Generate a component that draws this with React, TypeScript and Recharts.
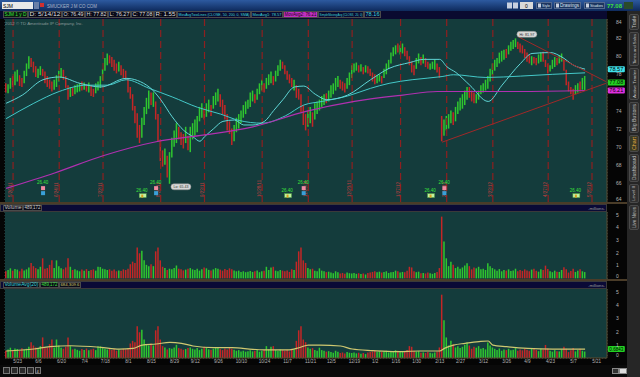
import React from 'react'
import {
  ComposedChart,
  Bar,
  Line,
  XAxis,
  YAxis,
  CartesianGrid,
  ReferenceLine,
  ReferenceDot,
  Cell,
} from 'recharts'

// daily bars, 5/16/11 .. 5/14/12
const lows = [
  76.0, 75.9, 76.4, 76.6, 76.8, 77.2, 76.7, 76.6, 77.0, 77.8,
  78.6, 78.8, 78.2, 77.7, 77.6, 77.9, 77.8, 77.0, 76.6, 76.4,
  76.1, 76.3, 76.6, 77.2, 77.6, 77.4, 76.5, 75.2, 75.5, 75.6,
  75.8, 76.0, 76.1, 76.2, 76.3, 76.1, 76.0, 75.6, 75.5, 75.9,
  76.2, 76.5, 77.3, 78.4, 79.0, 79.2, 78.8, 78.4, 78.1, 78.3,
  77.9, 77.6, 77.4, 76.0, 75.3, 74.0, 72.6, 71.0, 70.4, 71.0,
  72.4, 73.6, 74.2, 74.6, 74.4, 73.0, 70.6, 68.4, 67.8, 68.0,
  66.6, 65.9, 68.8, 70.0, 70.4, 70.8, 70.2, 69.8, 70.4, 69.6,
  69.4, 70.8, 71.2, 71.6, 72.8, 73.2, 73.0, 73.3, 73.8, 73.4,
  74.2, 74.6, 75.0, 74.4, 73.6, 73.0, 71.8, 71.4, 70.2, 70.6,
  71.6, 72.0, 72.6, 73.2, 73.6, 74.2, 74.4, 75.0, 74.8, 75.2,
  75.8, 76.2, 76.0, 76.4, 76.8, 77.0, 76.8, 77.2, 77.8, 78.4,
  78.6, 78.0, 77.4, 77.0, 76.6, 76.2, 75.4, 75.2, 73.8, 72.4,
  71.8, 72.2, 72.6, 72.2, 73.0, 73.6, 74.0, 74.4, 74.6, 74.8,
  75.0, 75.4, 75.8, 76.2, 76.6, 76.4, 76.2, 76.0, 76.4, 76.8,
  77.6, 78.2, 78.4, 78.2, 78.3, 78.0, 78.2, 78.1, 77.8, 77.2,
  76.9, 77.0, 77.2, 77.0, 77.6, 78.0, 78.6, 79.2, 80.0, 80.2,
  80.4, 80.2, 80.3, 80.0, 79.6, 79.0, 78.2, 77.9, 78.6, 79.2,
  79.0, 79.2, 78.8, 78.6, 78.5, 78.6, 78.5, 78.2, 77.6, 70.6,
  71.2, 71.8, 72.0, 72.6, 72.4, 72.8, 73.6, 74.0, 74.2, 74.6,
  75.2, 75.4, 75.0, 74.8, 74.8, 75.2, 75.8, 76.0, 76.2, 76.4,
  77.2, 77.9, 78.4, 78.8, 79.2, 79.4, 79.6, 79.8, 80.2, 80.6,
  80.8, 81.0, 80.8, 80.4, 80.3, 79.8, 79.4, 79.2, 79.0, 79.2,
  79.0, 79.2, 79.4, 79.4, 78.8, 78.1, 78.3, 78.6, 78.8, 79.0,
  79.2, 79.4, 78.4, 76.8, 76.1, 75.8, 75.2, 75.8, 76.0, 76.1,
  76.3, 76.27,
]

const highs = [
  77.0, 76.9, 77.6, 77.8, 78.3, 78.5, 77.9, 77.6, 78.4, 79.2,
  80.0, 79.8, 79.4, 78.9, 78.6, 78.9, 78.6, 78.3, 77.8, 77.4,
  77.2, 77.4, 77.9, 78.4, 78.7, 78.5, 77.8, 76.8, 76.6, 76.5,
  76.8, 76.9, 77.0, 77.2, 77.1, 76.9, 77.1, 76.8, 76.4, 77.0,
  77.2, 77.8, 78.6, 79.8, 80.3, 80.1, 79.9, 79.6, 79.2, 79.4,
  79.0, 78.6, 78.4, 77.6, 76.6, 75.8, 74.5, 73.7, 72.4, 73.2,
  74.4, 75.4, 76.2, 76.0, 76.0, 75.0, 73.6, 70.8, 69.6, 69.8,
  69.0, 69.4, 71.0, 71.8, 72.6, 72.2, 71.6, 71.4, 72.2, 71.2,
  72.2, 72.6, 73.0, 73.4, 74.4, 74.8, 74.2, 74.8, 75.2, 74.6,
  75.6, 76.0, 76.4, 75.8, 75.2, 74.6, 73.6, 72.8, 72.0, 72.4,
  73.2, 73.6, 74.0, 74.6, 75.0, 75.2, 76.0, 76.2, 75.8, 76.4,
  77.0, 77.4, 77.0, 77.6, 78.0, 78.3, 77.8, 78.4, 79.0, 79.6,
  79.4, 79.0, 78.4, 78.0, 77.6, 77.4, 76.8, 76.4, 75.8, 74.6,
  73.6, 74.0, 74.4, 73.8, 74.8, 75.0, 75.2, 75.6, 75.8, 75.9,
  76.2, 76.8, 77.0, 77.6, 77.8, 77.4, 77.2, 77.0, 77.6, 78.2,
  79.0, 79.2, 79.3, 79.0, 79.1, 78.8, 79.0, 78.9, 78.6, 78.2,
  78.0, 77.9, 78.0, 77.8, 78.6, 79.2, 79.6, 80.4, 81.0, 81.2,
  81.4, 81.2, 81.4, 81.0, 80.6, 80.0, 79.4, 79.0, 79.8, 80.3,
  79.9, 80.2, 79.8, 79.4, 79.2, 79.4, 79.6, 79.2, 78.8, 73.4,
  73.0, 73.4, 73.6, 74.0, 73.8, 74.4, 75.0, 75.4, 75.8, 76.2,
  76.6, 76.6, 76.2, 76.0, 75.8, 76.2, 76.8, 77.0, 77.4, 77.8,
  78.6, 79.2, 79.6, 79.8, 80.4, 80.6, 80.7, 80.8, 81.2, 81.6,
  81.8, 81.97, 81.6, 81.4, 81.2, 80.8, 80.4, 80.2, 80.0, 79.9,
  79.8, 80.2, 80.4, 80.5, 79.6, 79.2, 79.0, 79.6, 79.9, 79.8,
  80.1, 80.3, 79.6, 78.5, 77.2, 76.6, 76.4, 76.8, 77.0, 77.2,
  77.6, 77.82,
]

// u = close above open, d = close below open
const dirs = (
  'duuduudduu uddduudddd duuuudddud uuudududdu uuuuuddddu ' +
  'dddddddddu uuududdddu duuuudddud uuuuuuduud uuuddddddu ' +
  'uuuuuuuudu uuduuuduuu dddddudddd duuduuuuud uuuuuddduu ' +
  'uuudududdd duuduuuuuu duuddddduu dudduuuddd uuuuduuuuu ' +
  'uddduuuuuu uuuuuuuduu uuddddddud duuddduuud uuddddduud uu'
).replace(/ /g, '')

// volume, millions
const volumes = [
  0.55, 0.65, 0.78, 0.6, 0.72, 0.68, 0.55, 0.74, 0.62, 0.7,
  0.85, 1.2, 0.95, 0.8, 0.7, 0.9, 1.56, 0.75, 0.8, 1.05,
  1.4, 0.8, 1.4, 0.95, 0.78, 0.7, 0.85, 1.56, 0.9, 0.65,
  0.7, 0.62, 0.55, 0.68, 0.6, 0.72, 0.58, 0.65, 0.7, 0.6,
  0.9, 0.88, 0.75, 0.7, 0.65, 0.7, 0.6, 0.68, 0.55, 0.62,
  0.58, 0.7, 0.65, 0.75, 1.1, 1.3, 1.2, 2.4, 1.95, 2.15,
  1.4, 1.05, 0.95, 1.1, 0.95, 2.1, 2.4, 1.4, 0.9, 0.8,
  0.65, 0.75, 0.7, 0.8, 1.0, 0.75, 0.7, 0.62, 0.68, 0.75,
  0.8, 0.7, 0.65, 0.75, 0.6, 0.7, 0.85, 0.78, 0.66, 0.62,
  0.7, 0.8, 0.75, 0.68, 0.6, 0.72, 0.65, 0.78, 0.7, 0.62,
  0.55, 0.6, 0.5, 0.55, 0.48, 0.52, 0.58, 0.5, 0.55, 0.62,
  0.48, 0.55, 0.6, 0.9, 0.65, 0.85, 0.9, 0.6, 0.55, 0.65,
  0.6, 0.55, 0.62, 0.5, 0.7, 0.65, 1.3, 2.1, 2.4, 1.4,
  1.2, 0.8, 0.7, 0.75, 0.6, 0.55, 0.78, 0.6, 0.55, 0.48,
  0.52, 0.45, 0.4, 0.55, 0.48, 0.38, 0.42, 0.35, 0.45, 0.4,
  0.38, 0.42, 0.35, 0.4, 0.33, 0.38, 0.3, 0.42, 0.45, 0.5,
  0.55, 0.48, 0.52, 0.45, 0.5, 0.55, 0.42, 0.48, 0.5, 0.6,
  0.55, 0.45, 0.5, 0.48, 0.6, 0.9, 0.85, 0.55, 0.48, 0.52,
  0.4, 0.42, 0.38, 0.45, 0.4, 0.35, 0.42, 0.5, 0.8, 4.8,
  2.86, 1.56, 0.95, 1.3, 1.05, 0.8, 0.9, 0.75, 0.85, 1.0,
  1.17, 0.95, 0.7, 0.85, 0.78, 0.9, 0.7, 0.75, 0.65, 1.17,
  0.95, 0.8, 0.7, 0.6, 0.72, 0.55, 0.65, 0.6, 0.7, 0.58,
  0.62, 0.75, 0.55, 0.65, 0.58, 0.7, 0.62, 0.55, 0.68, 0.75,
  0.6, 0.52, 0.7, 0.65, 0.99, 0.72, 0.55, 0.48, 0.6, 0.52,
  0.5, 0.65, 0.86, 0.7, 0.45, 0.58, 0.75, 0.5, 0.6, 0.7,
  0.55, 0.49,
]

// moving averages, read as [bar, value]
const ma20 = [
  [0, 74.8], [7, 75.7], [16, 77.4], [23, 77.7], [32, 77.0], [41, 76.6], [52, 77.55],
  [62, 76.6], [67, 75.2], [72, 73.3], [77, 71.8], [81, 71.1], [84, 70.6], [86, 71.1],
  [90, 72.0], [94, 72.8], [99, 72.95], [103, 72.4], [107, 72.4], [112, 72.8], [116, 74.0],
  [120, 75.2], [125, 76.6], [129, 76.7], [134, 75.8], [139, 75.2], [148, 75.7], [158, 77.4],
  [166, 78.65], [175, 79.3], [181, 79.65], [188, 79.65], [191, 78.85], [195, 78.2],
  [201, 76.8], [209, 75.0], [215, 76.8], [223, 79.2], [228, 80.3], [236, 80.4],
  [241, 79.9], [246, 79.0], [251, 78.57],
]
const ma50 = [
  [0, 73.1], [12, 74.8], [23, 76.1], [35, 76.8], [44, 76.8], [52, 77.4], [62, 76.45],
  [72, 75.5], [83, 74.35], [93, 73.6], [101, 72.9], [111, 72.6], [121, 73.4], [129, 74.6],
  [137, 75.0], [148, 75.6], [158, 76.45], [166, 77.0], [176, 77.4], [189, 77.75],
  [194, 77.95], [208, 77.65], [223, 77.8], [237, 78.0], [251, 78.16],
]
const ma200 = [
  [0, 65.4], [21, 67.1], [42, 69.0], [65, 70.55], [86, 71.3], [107, 72.2], [130, 73.9],
  [151, 75.0], [172, 75.7], [187, 76.1], [222, 76.1], [251, 76.21],
]
const volAvg = [
  [0, 0.53], [12, 0.68], [19, 0.86], [28, 0.93], [41, 0.81], [49, 0.68], [55, 0.73],
  [59, 0.98], [65, 1.06], [71, 1.19], [76, 1.11], [81, 0.91], [90, 0.78], [98, 0.78],
  [107, 0.66], [113, 0.61], [122, 0.61], [127, 0.78], [131, 0.98], [136, 0.98],
  [145, 0.91], [150, 0.68], [159, 0.56], [169, 0.48], [179, 0.53], [188, 0.53],
  [190, 0.73], [194, 0.98], [199, 1.11], [205, 1.24], [209, 1.29], [211, 0.98],
  [217, 0.86], [226, 0.73], [237, 0.68], [251, 0.68],
]

const tickIdx = [5, 14, 24, 34, 43, 53, 63, 73, 82, 92, 102, 112, 122, 132, 141, 151, 160, 169, 178, 188, 197, 207, 217, 226, 236, 246, 256]
const tickLabels = ['5/23', '6/6', '6/20', '7/4', '7/18', '8/1', '8/15', '8/29', '9/12', '9/26', '10/10', '10/24', '11/7', '11/21', '12/5', '12/19', '1/2', '1/16', '1/30', '2/13', '2/27', '3/12', '3/26', '4/9', '4/23', '5/7', '5/21']
const priceTicks = [64, 66, 68, 70, 72, 74, 76, 78, 80, 82, 84]
const volTicks = [0, 1, 2, 3, 4, 5]

const eventLines = [3, 23, 42, 67, 86, 111, 131, 150, 171, 191, 211, 235, 254]
const eventLineLabels = ['5/26/11', '6/24/11', '7/22/11', '8/26/11', '9/23/11', '10/28/11', '11/25/11', '12/23/11', '1/27/12', '2/24/12', '3/23/12', '4/27/12', '5/25/12']
const dividendIdx = [16, 65, 129, 190]
const earningsIdx = [59, 122, 184, 247]

const trendUpper = [[222, 82.15], [260, 77.2]]
const trendLower = [[189, 70.5], [260, 77.0]]

// last values shown as tags on the price axis
const tagValues = [78.57, 77.08, 76.21]
const tagColors = ['#3ee0e8', '#22d022', '#e030e0']

const SLOTS = 261
const GREEN = '#2fc62f'
const RED = '#c42626'
const BG = '#143c3c'
const GRID = '#365c5c'
const AXIS_TXT = '#b4b4b4'
const FONT = '"Liberation Sans", Arial, sans-serif'

function lookup(points: number[][], i: number) {
  const p = points.find((q) => q[0] === i)
  return p ? p[1] : null
}

const rows = Array.from({ length: SLOTS }, (_, i) => ({
  i,
  range: i < lows.length ? [lows[i], highs[i]] : null,
  vol: i < volumes.length ? volumes[i] : null,
  ma20: lookup(ma20, i),
  ma50: lookup(ma50, i),
  ma200: lookup(ma200, i),
  vavg: lookup(volAvg, i),
}))

const barColor = (i: number) => (dirs[i] === 'd' ? RED : GREEN)

// size that lets a label fit its box without squeezing too much
const fitSize = (text: string, w: number, max = 5) => Math.min(max, w / (text.length * 0.5))

function TBox({ x, y, w, h, bg, color, text, border = '#4a4a4a', size = 5 }: any) {
  const fs = fitSize(text, w - 3, size)
  return (
    <g>
      <rect x={x + 0.5} y={y + 0.5} width={w - 1} height={h - 1} fill={bg} stroke={border} strokeWidth={1} />
      <text x={x + 1.5} y={y + h - 1.6} fontSize={fs} fill={color} fontFamily={FONT}
        textLength={w - 3} lengthAdjust="spacingAndGlyphs">{text}</text>
    </g>
  )
}

function T({ x, y, text, color = AXIS_TXT, size = 5, w, anchor, bold }: any) {
  const fs = w ? fitSize(text, w, size) : size
  return (
    <text x={x} y={y} fontSize={fs} fill={color} fontFamily={FONT} textAnchor={anchor}
      fontWeight={bold ? 'bold' : undefined}
      {...(w ? { textLength: w, lengthAdjust: 'spacingAndGlyphs' } : {})}>{text}</text>
  )
}

// right axis labels, kept inside the pane; labels hidden under a value tag are skipped
const rightTick = (paneH: number, covered: number[] = []) => ({ x, y, payload }: any) =>
  covered.some((c) => Math.abs(c - payload.value) < 0.4) ? <g /> : (
    <text x={x + 1} y={Math.max(5, Math.min(paneH - 1, y + 2))} fill={AXIS_TXT} fontSize={5} fontFamily={FONT}>
      {payload.value}
    </text>
  )

function PriceTag({ cx, cy, fill, value }: any) {
  return (
    <g>
      <rect x={cx + 2} y={cy - 3} width={17} height={6} rx={1} fill={fill} />
      <text x={cx + 3.5} y={cy + 1.8} fontSize={4.5} fill="#000" fontFamily={FONT}
        textLength={14} lengthAdjust="spacingAndGlyphs">{value}</text>
    </g>
  )
}

function Dividend({ cx, cy }: any) {
  return (
    <g>
      <text x={cx - 6} y={cy - 6} fontSize={4.5} fill="#3be03b" fontFamily={FONT}>26.40</text>
      <rect x={cx - 2} y={cy - 4} width={4} height={4} fill="#f08aa0" />
      <rect x={cx - 2} y={cy + 1} width={4} height={4} fill="#3aa0d8" />
    </g>
  )
}

function Earnings({ cx, cy }: any) {
  return (
    <g>
      <text x={cx - 6} y={cy - 4} fontSize={4.5} fill="#3be03b" fontFamily={FONT}>26.40</text>
      <rect x={cx - 3} y={cy - 2} width={7} height={4} fill="#bff0a0" stroke="#4c9c3c" strokeWidth={0.5} />
      <rect x={cx - 1} y={cy - 1} width={2} height={3} fill="#d8a020" />
    </g>
  )
}

function Bubble({ cx, cy, text, dy }: any) {
  return (
    <g>
      <rect x={cx + 1} y={cy + dy} width={20} height={6} rx={3} fill="#d8d8d8" stroke="#888" strokeWidth={0.5} />
      <text x={cx + 3.5} y={cy + dy + 4.6} fontSize={4} fill="#333" fontFamily={FONT}
        textLength={15} lengthAdjust="spacingAndGlyphs">{text}</text>
    </g>
  )
}

function EventLabel({ viewBox, value }: any) {
  const x = viewBox.x - 1
  const y = viewBox.y + viewBox.height - 5
  return (
    <text x={x} y={y} fontSize={4.5} fill="#c04040" fontFamily={FONT} transform={`rotate(-90 ${x} ${y})`}>
      {value}
    </text>
  )
}

const hiddenX = (
  <XAxis dataKey="i" ticks={tickIdx} interval={0} tick={false} tickLine={false} axisLine={false} height={0} />
)

function PriceChart() {
  return (
    <ComposedChart width={627} height={183} data={rows} margin={{ top: 0, right: 0, left: 5, bottom: 0 }} barCategoryGap={0}>
      <rect x={5} y={0} width={602} height={183} fill={BG} />
      <CartesianGrid stroke={GRID} strokeDasharray="1 2" />
      {hiddenX}
      <YAxis orientation="right" width={20} domain={[63.89, 84.11]} ticks={priceTicks} interval={0}
        tick={rightTick(183, tagValues)} tickLine={false} axisLine={{ stroke: '#5a4a30' }} allowDataOverflow />
      {eventLines.map((e, k) => (
        <ReferenceLine key={e} x={e} stroke="#8e2020" strokeWidth={1.2} strokeDasharray="7 4"
          label={<EventLabel value={eventLineLabels[k]} />} />
      ))}
      <Bar dataKey="range" barSize={1.5} isAnimationActive={false}>
        {rows.map((r) => <Cell key={r.i} fill={barColor(r.i)} />)}
      </Bar>
      <Line dataKey="ma50" stroke="#44c8c8" strokeWidth={1} dot={false} connectNulls type="monotone" isAnimationActive={false} />
      <Line dataKey="ma20" stroke="#5fd6d6" strokeWidth={1} dot={false} connectNulls type="monotone" isAnimationActive={false} />
      <Line dataKey="ma200" stroke="#b030b0" strokeWidth={1.2} dot={false} connectNulls type="monotone" isAnimationActive={false} />
      <ReferenceLine segment={[{ x: trendUpper[0][0], y: trendUpper[0][1] }, { x: trendUpper[1][0], y: trendUpper[1][1] }]} stroke="#a02828" strokeWidth={1} />
      <ReferenceLine segment={[{ x: trendLower[0][0], y: trendLower[0][1] }, { x: trendLower[1][0], y: trendLower[1][1] }]} stroke="#a02828" strokeWidth={1} />
      {dividendIdx.map((d) => (
        <ReferenceDot key={'d' + d} x={d} y={65.2} r={0} shape={(p: any) => <Dividend {...p} />} />
      ))}
      {earningsIdx.map((d) => (
        <ReferenceDot key={'e' + d} x={d} y={64.6} r={0} shape={(p: any) => <Earnings {...p} />} />
      ))}
      <ReferenceDot x={71} y={65.9} r={0} shape={(p: any) => <Bubble {...p} text="Lo: 65.43" dy={0} />} />
      <ReferenceDot x={221} y={81.97} r={0} shape={(p: any) => <Bubble {...p} text="Hi: 81.97" dy={-7} />} />
      {tagValues.map((v, k) => (
        <ReferenceDot key={'t' + v} x={260} y={v} r={0} ifOverflow="visible"
          shape={(p: any) => <PriceTag {...p} fill={tagColors[k]} value={v.toFixed(2)} />} />
      ))}
    </ComposedChart>
  )
}

function VolumeChart({ height, domain, avg }: any) {
  const paneH = height - (avg ? 7 : 0)
  return (
    <ComposedChart width={627} height={height} data={rows} margin={{ top: 0, right: 0, left: 5, bottom: 0 }} barCategoryGap={0}>
      <rect x={5} y={0} width={602} height={paneH} fill={BG} />
      <CartesianGrid stroke={GRID} strokeDasharray="1 2" />
      {avg ? (
        <XAxis dataKey="i" ticks={tickIdx} interval={0} height={7} tickSize={0} tickMargin={0} tickLine={false}
          axisLine={{ stroke: '#5a4a30' }}
          tick={({ x, payload }: any) => (
            <text x={x} y={paneH + 4.8} textAnchor="middle" fontSize={4.6} fill={AXIS_TXT} fontFamily={FONT}>
              {tickLabels[tickIdx.indexOf(payload.value)]}
            </text>
          )} />
      ) : hiddenX}
      <YAxis orientation="right" width={20} domain={domain} ticks={volTicks} interval={0} tick={rightTick(paneH)}
        tickLine={false} axisLine={{ stroke: '#5a4a30' }} allowDataOverflow />
      <Bar dataKey="vol" barSize={1.5} isAnimationActive={false}>
        {rows.map((r) => <Cell key={r.i} fill={barColor(r.i)} />)}
      </Bar>
      {avg && (
        <Line dataKey="vavg" stroke="#cfc870" strokeWidth={1.2} dot={false} connectNulls type="monotone" isAnimationActive={false} />
      )}
      {avg && (
        <ReferenceDot x={260} y={0.68} r={0} ifOverflow="visible" shape={(p: any) => <PriceTag {...p} fill="#22d022" value="0.6843" />} />
      )}
    </ComposedChart>
  )
}

const sideTabs = [
  { y: 14, h: 16, label: 'Trade' },
  { y: 32, h: 34, label: 'Times and Sales' },
  { y: 68, h: 32, label: 'Active Trader' },
  { y: 102, h: 31, label: 'Big Buttons' },
  { y: 135, h: 17, label: 'Chart', active: true },
  { y: 154, h: 28, label: 'Dashboard' },
  { y: 184, h: 19, label: 'Level II' },
  { y: 205, h: 25, label: 'Live News' },
]

function Frame() {
  return (
    <svg width={640} height={377} style={{ position: 'absolute', left: 0, top: 0, pointerEvents: 'none' }}>
      <defs>
        <linearGradient id="tb" x1="0" y1="0" x2="0" y2="1">
          <stop offset="0" stopColor="#2d5aa0" />
          <stop offset="1" stopColor="#0e2a5c" />
        </linearGradient>
      </defs>
      {/* top toolbar */}
      <rect x={0} y={0} width={640} height={11} fill="url(#tb)" />
      <rect x={2} y={2} width={31} height={7} fill="#e8e8e8" />
      <T x={3} y={7.6} text="SJM" color="#000" />
      <rect x={34} y={2} width={5} height={7} fill="#6a7fa8" />
      <rect x={40} y={3} width={4} height={4} fill="#d03030" />
      <T x={47} y={7.5} text="SMUCKER J M CO COM" color="#aab4c8" size={4.5} w={50} />
      <rect x={507} y={2.5} width={5} height={6} fill="#c8d0e0" />
      <rect x={513} y={2.5} width={5} height={6} fill="#c8d0e0" />
      <rect x={520} y={2} width={13} height={7} fill="#d8d8d8" />
      <T x={526.5} y={7.6} text="0" color="#000" anchor="middle" />
      {['Style', 'Drawings', 'Studies'].map((s, k) => {
        const x = [536, 554, 584][k]
        const w = [16, 27, 21][k]
        return (
          <g key={s}>
            <rect x={x + 0.5} y={2.5} width={w - 1} height={6} fill="#1c3560" stroke="#52688e" />
            <rect x={x + 2} y={3.5} width={3} height={4} fill="#c8d0e0" />
            <T x={x + 6} y={7.4} text={s} color="#dfe6f2" size={4.8} w={w - 8} />
          </g>
        )
      })}
      <T x={607} y={8} text="77.08" color="#3ce03c" size={5.5} bold w={15} />
      <rect x={624} y={2} width={9} height={7} fill="#2a4a2a" />

      {/* study header of price pane */}
      <rect x={0} y={11} width={607} height={8} fill="#0a0a30" />
      <TBox x={3} y={11} w={25} h={7} bg="#0a1a10" color="#3ce03c" text="SJM 1 y D" />
      <TBox x={28} y={11} w={34} h={7} bg="#0a0a18" color="#ddd" text="D: 5/14/12" />
      <TBox x={62} y={11} w={23} h={7} bg="#0a0a18" color="#ddd" text="O: 76.49" />
      <TBox x={85} y={11} w={23} h={7} bg="#0a0a18" color="#ddd" text="H: 77.82" />
      <TBox x={108} y={11} w={23} h={7} bg="#0a0a18" color="#ddd" text="L: 76.27" />
      <TBox x={131} y={11} w={23} h={7} bg="#0a0a18" color="#ddd" text="C: 77.08" />
      <TBox x={154} y={11} w={23} h={7} bg="#0a0a18" color="#ddd" text="R: 1.55" />
      <TBox x={177} y={11} w={74} h={7} bg="#0a0a30" color="#3ad8d8" text="MovAvgTwoLines (CLOSE, 50, 200, 0, SMA)" />
      <TBox x={251} y={11} w={32} h={7} bg="#0a0a30" color="#3ad8d8" text="MovAvg1: 78.57" />
      <TBox x={283} y={11} w={35} h={7} bg="#c030c0" color="#1a001a" text="MovAvg2: 76.21" />
      <TBox x={318} y={11} w={46} h={7} bg="#0a0a30" color="#3ad8d8" text="SimpleMovingAvg (CLOSE, 20, 0)" />
      <TBox x={364} y={11} w={17} h={7} bg="#0a0a30" color="#3ad8d8" text="78.16" />
      <T x={5} y={25} text="2012 © TD Ameritrade IP Company, Inc." color="#8a9a9a" size={4.5} w={78} />

      {/* volume header */}
      <rect x={0} y={202} width={627} height={2} fill="#4a3c28" />
      <rect x={0.5} y={204.5} width={606} height={7} fill="#0a0a36" stroke="#3a3a3a" />
      <TBox x={3} y={205} w={20} h={6} bg="#0a0a18" color="#ccc" text="Volume" size={4.5} />
      <TBox x={23} y={205} w={19} h={6} bg="#0a0a18" color="#ccc" text="489,172" size={4.5} />
      <T x={588} y={209.6} text="-millions-" color="#999" size={4.5} w={17} />

      {/* volume average header */}
      <rect x={0} y={279} width={627} height={2} fill="#4a3c28" />
      <rect x={0.5} y={281.5} width={606} height={7} fill="#0a0a36" stroke="#3a3a3a" />
      <TBox x={3} y={282} w={37} h={6} bg="#0a0a18" color="#3ad8d8" text="VolumeAvg(20)" size={4.5} />
      <TBox x={40} y={282} w={19} h={6} bg="#0a0a18" color="#3ce03c" text="489,172" size={4.5} />
      <TBox x={59} y={282} w={22} h={6} bg="#0a0a18" color="#d8d070" text="684,309.6" size={4.5} />
      <T x={588} y={286.6} text="-millions-" color="#999" size={4.5} w={17} />

      {/* bottom toolbar */}
      <rect x={0} y={365} width={627} height={12} fill="#0a0a0a" />
      {[3, 11, 19, 27].map((x) => (
        <rect key={x} x={x + 0.5} y={367.5} width={6} height={6} fill="#2a2a2a" stroke="#777" />
      ))}
      <rect x={35.5} y={367.5} width={5} height={6} fill="#222" stroke="#777" />
      <T x={36.5} y={372.5} text="4" color="#ccc" size={4} />
      <rect x={612.5} y={368.5} width={6} height={5} fill="#333" stroke="#888" />
      <rect x={619.5} y={368.5} width={7} height={5} fill="#ddd" stroke="#888" />

      {/* side tabs */}
      <rect x={627} y={11} width={13} height={366} fill="#262626" />
      {sideTabs.map((t) => {
        const cx = 634
        const cy = t.y + t.h / 2
        const len = t.h - 4
        return (
          <g key={t.label}>
            <rect x={629.5} y={t.y + 0.5} width={9} height={t.h - 1} rx={1.5} fill={t.active ? '#3a3a26' : '#303030'} stroke="#4a4a4a" />
            <text x={cx} y={cy} fontSize={fitSize(t.label, len, 4.5)} fill={t.active ? '#e8b040' : '#c0c0c0'} fontFamily={FONT}
              textAnchor="middle" dominantBaseline="central" transform={`rotate(-90 ${cx} ${cy})`}
              textLength={len} lengthAdjust="spacingAndGlyphs">{t.label}</text>
          </g>
        )
      })}
    </svg>
  )
}

export default function App() {
  return (
    <div style={{ position: 'absolute', left: 0, top: 0, width: 640, height: 377, background: '#050505', overflow: 'hidden' }}>
      <div style={{ position: 'absolute', left: 0, top: 19 }}>
        <PriceChart />
      </div>
      <div style={{ position: 'absolute', left: 0, top: 212 }}>
        <VolumeChart height={67} domain={[-0.05, 5.16]} />
      </div>
      <div style={{ position: 'absolute', left: 0, top: 289 }}>
        <VolumeChart height={76} domain={[0, 5.23]} avg />
      </div>
      <Frame />
    </div>
  )
}
